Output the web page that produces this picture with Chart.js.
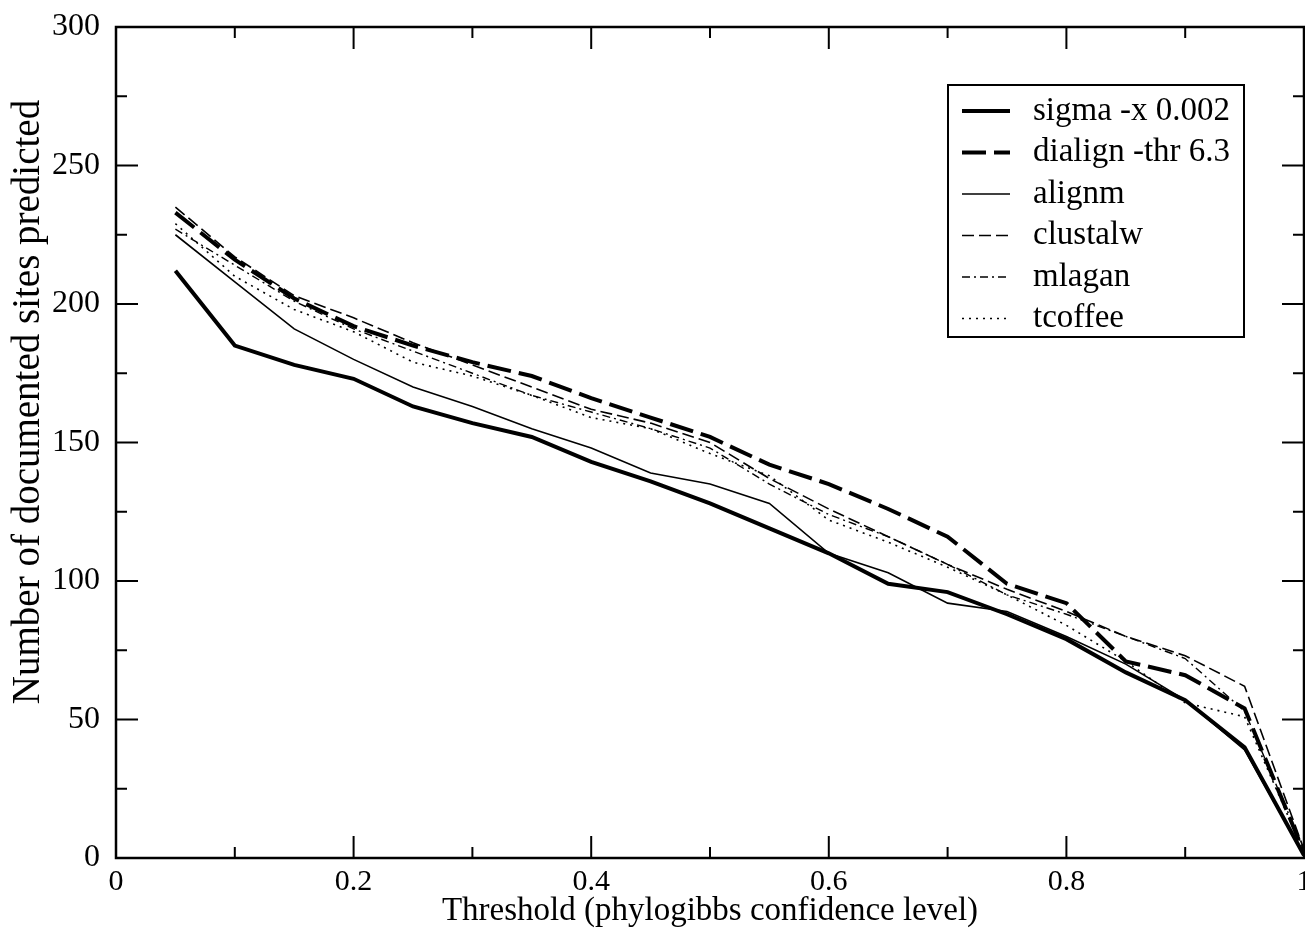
<!DOCTYPE html>
<html>
<head>
<meta charset="utf-8">
<script src="https://cdn.jsdelivr.net/npm/chart.js@4/dist/chart.umd.min.js"></script>
<style>
html,body{margin:0;padding:0;background:#fff;}
#c{display:block;}
</style>
</head>
<body>
<canvas id="c" width="1305" height="935"></canvas>
<script>
// ---- data ----
const thresholds = [0.05,0.1,0.15,0.2,0.25,0.3,0.35,0.4,0.45,0.5,0.55,0.6,0.65,0.7,0.75,0.8,0.85,0.9,0.95,1.0];
const seriesNames = ["sigma -x 0.002","dialign -thr 6.3","alignm","clustalw","mlagan","tcoffee"];
const sigma    = [212,185,178,173,163,157,152,143,136,128,119,110,99,96,88,79,67,57,40,1];
const dialign  = [233,216,202,192,185,179,174,166,159,152,142,135,126,116,99,92,71,66,54,2];
const alignm   = [225,208,191,180,170,163,155,148,139,135,128,110,103,92,89,80,70,57,39,1];
const clustalw = [235,217,203,195,186,178,170,162,157,150,137,126,116,106,97,89,80,73,62,3];
const mlagan   = [227,214,201,191,183,175,167,161,155,148,135,124,116,106,95,88,80,72,53,3];
const tcoffee  = [229,210,198,190,179,174,167,159,155,146,138,122,114,105,95,84,71,56,51,2];
const xTickLabels = ["0","0.2","0.4","0.6","0.8","1"];
const yTickLabels = ["0","50","100","150","200","250","300"];
const xTitle = "Threshold (phylogibbs confidence level)";
const yTitle = "Number of documented sites predicted";

const FONT = "'Liberation Serif','DejaVu Serif',serif";
Chart.defaults.font.family = FONT;
Chart.defaults.color = '#000';

const styles = [
  {w:4,   dash:[]},
  {w:4,   dash:[24,8]},
  {w:1.6, dash:[]},
  {w:1.6, dash:[12,5]},
  {w:1.4, dash:[8,4,2,4]},
  {w:1.6, dash:[2,5]}
];
const values = [sigma, dialign, alignm, clustalw, mlagan, tcoffee];
const datasets = values.map((arr, i) => ({
  label: seriesNames[i],
  data: arr.map((v, j) => ({x: thresholds[j], y: v})),
  borderColor: '#000',
  backgroundColor: '#000',
  borderWidth: styles[i].w,
  borderDash: styles[i].dash,
  pointRadius: 0,
  tension: 0,
  fill: false
}));

const framePlugin = {
  id: 'frame',
  afterDatasetsDraw(chart) {
    const {ctx, chartArea: a, scales} = chart;
    const xs = scales.x, ys = scales.y;
    ctx.save();
    ctx.strokeStyle = '#000';
    ctx.lineWidth = 2.5;
    ctx.strokeRect(a.left, a.top, a.right - a.left, a.bottom - a.top);
    ctx.lineWidth = 2;
    ctx.beginPath();
    for (let k = 0; k <= 12; k++) {
      const v = k * 25;
      const p = ys.getPixelForValue(v);
      const len = (k % 2 === 0) ? 22 : 11;
      ctx.moveTo(a.left, p); ctx.lineTo(a.left + len, p);
      ctx.moveTo(a.right, p); ctx.lineTo(a.right - len, p);
    }
    for (let k = 0; k <= 10; k++) {
      const v = k / 10;
      const p = xs.getPixelForValue(v);
      const len = (k % 2 === 0) ? 22 : 11;
      ctx.moveTo(p, a.bottom); ctx.lineTo(p, a.bottom - len);
      ctx.moveTo(p, a.top); ctx.lineTo(p, a.top + len);
    }
    ctx.stroke();

    // y axis title
    ctx.save();
    ctx.translate(29, 402);
    ctx.rotate(-Math.PI / 2);
    ctx.font = "39px " + FONT;
    ctx.fillStyle = '#000';
    ctx.textAlign = 'center';
    ctx.textBaseline = 'middle';
    ctx.fillText(yTitle, 0, 0);
    ctx.restore();

    // legend box
    const bx = 948, by = 85, bw = 296, bh = 252;
    ctx.fillStyle = '#fff';
    ctx.fillRect(bx, by, bw, bh);
    ctx.lineWidth = 2;
    ctx.strokeRect(bx, by, bw, bh);
    ctx.font = "33px " + FONT;
    ctx.textBaseline = 'middle';
    ctx.textAlign = 'left';
    chart.data.datasets.forEach((ds, i) => {
      const y = 111 + i * 41.5;
      ctx.beginPath();
      ctx.lineWidth = ds.borderWidth;
      ctx.setLineDash(ds.borderDash);
      ctx.moveTo(962, y); ctx.lineTo(1010, y);
      ctx.stroke();
      ctx.setLineDash([]);
      ctx.fillStyle = '#000';
      ctx.fillText(ds.label, 1033, y);
    });
    ctx.restore();
  }
};

new Chart(document.getElementById('c'), {
  type: 'line',
  data: {datasets},
  plugins: [framePlugin],
  options: {
    responsive: false,
    animation: false,
    layout: {padding: {top: 27, right: 1, left: 0, bottom: 0}},
    plugins: {legend: {display: false}, tooltip: {enabled: false}},
    scales: {
      x: {
        type: 'linear', min: 0, max: 1,
        grid: {display: false, drawTicks: false},
        border: {display: false},
        ticks: {
          stepSize: 0.2, padding: 6, maxRotation: 0, autoSkip: false,
          font: {size: 30},
          callback: (v, i) => xTickLabels[i]
        },
        title: {display: true, text: xTitle, font: {size: 33}, padding: {top: 0, bottom: 4}},
        afterFit(s) { s.height = 77; s.paddingLeft = 0; s.paddingRight = 0; }
      },
      y: {
        type: 'linear', min: 0, max: 300,
        grid: {display: false, drawTicks: false},
        border: {display: false},
        ticks: {
          stepSize: 50, padding: 16, autoSkip: false,
          font: {size: 32},
          callback: (v, i) => yTickLabels[i]
        },
        title: {display: false},
        afterFit(s) { s.width = 116; s.paddingTop = 0; s.paddingBottom = 0; }
      }
    }
  }
});
</script>
</body>
</html>
